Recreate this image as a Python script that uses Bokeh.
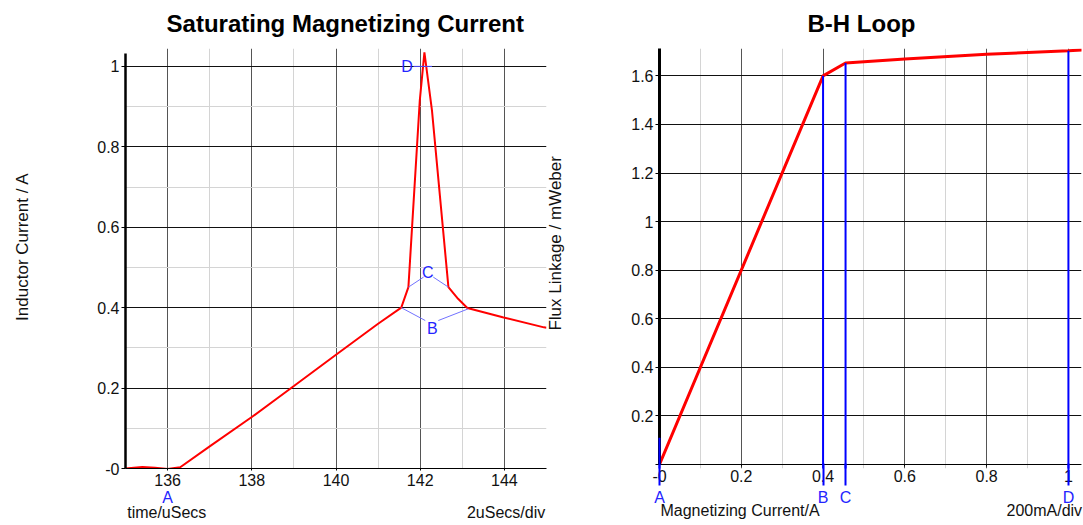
from bokeh.plotting import figure
from bokeh.layouts import row
from bokeh.models import FixedTicker, Label, LinearAxis
from bokeh.embed import file_html
from bokeh.resources import INLINE
import math

# ---- data: left chart (inductor current vs time) ----
time_us = [135.0, 135.4, 135.7, 136.0, 136.3, 137.0, 138.0, 139.0, 140.0, 141.0,
           141.55, 141.72, 141.99, 142.1, 142.28, 142.67, 142.9, 143.12, 143.96, 144.94, 145.0]
current_a = [0.0, 0.004, 0.002, -0.001, 0.003, 0.055, 0.128, 0.205, 0.283, 0.36,
             0.40, 0.451, 0.915, 1.035, 0.89, 0.451, 0.422, 0.399, 0.376, 0.351, 0.35]
left_title = "Saturating Magnetizing Current"
left_title_pos = 140.22
left_xticks = [136, 138, 140, 142, 144]
left_xminor = [135, 137, 139, 141, 143, 145]
left_yticks = [0, 0.2, 0.4, 0.6, 0.8, 1.0]
left_yminor = [0.1, 0.3, 0.5, 0.7, 0.9]
left_ylabels = {0: "-0", 0.2: "0.2", 0.4: "0.4", 0.6: "0.6", 0.8: "0.8", 1.0: "1"}
left_cursor_x = [136]
left_cursor_names = {136: "A"}
left_text_pos = [135.98, 144.04]
left_texts = {135.98: "time/uSecs", 144.04: "2uSecs/div"}
left_ylabel_pos = 0.736
left_ylabel = "Inductor Current / A"

# cursor marks on left chart
cur_b_x = [[141.55, 142.12], [142.43, 143.14]]
cur_b_y = [[0.40, 0.368], [0.368, 0.397]]
cur_c_x = [[141.72, 142.08], [142.31, 142.67]]
cur_c_y = [[0.451, 0.476], [0.476, 0.451]]
cur_d_x = [141.84, 142.28]
cur_d_y = [1.0, 1.0]

# ---- data: right chart (B-H loop) ----
mag_current = [0.0, 0.4, 0.455, 0.6, 0.8, 1.0, 1.04]
flux = [0.0, 1.6, 1.653, 1.669, 1.689, 1.703, 1.707]
right_title = "B-H Loop"
right_title_pos = 0.494
right_xticks = [0, 0.2, 0.4, 0.6, 0.8, 1.0]
right_xminor = [0.1, 0.3, 0.5, 0.7, 0.9]
right_xlabels = {0: "-0", 0.2: "0.2", 0.4: "0.4", 0.6: "0.6", 0.8: "0.8", 1.0: "1"}
right_yticks = [0, 0.2, 0.4, 0.6, 0.8, 1.0, 1.2, 1.4, 1.6]
right_ylabels = {0: "", 0.2: "0.2", 0.4: "0.4", 0.6: "0.6", 0.8: "0.8", 1.0: "1",
                 1.2: "1.2", 1.4: "1.4", 1.6: "1.6"}
right_ymin = -0.0165
right_ymax = 1.7127
cursor_names = ["A", "B", "C", "D"]
cursor_x = [0.0, 0.4, 0.455, 1.0]
cursor_top = [0.11, 1.6, 1.653, 1.703]
right_text_pos = [0.197, 0.941]
right_texts = {0.197: "Magnetizing Current/A", 0.941: "200mA/div"}
right_ylabel_pos = 0.343   # shown in the gap between the two charts
right_ylabel = "Flux Linkage / mWeber"

FONT = "Liberation Sans"
BLUE = "#2424ff"
TXT = "#111111"


def style(p, xt, xm, yt, ym, xlab, ylab, ylw):
    p.xaxis.ticker = FixedTicker(ticks=xt, minor_ticks=xm)
    p.yaxis.ticker = FixedTicker(ticks=yt, minor_ticks=ym)
    p.xaxis.major_label_overrides = xlab
    p.yaxis.major_label_overrides = ylab
    for ax in (p.xaxis, p.yaxis):
        ax.major_label_text_font = FONT
        ax.major_label_text_font_size = "16px"
        ax.major_label_text_color = TXT
        ax.minor_tick_line_color = None
        ax.major_tick_in = 0
        ax.axis_line_color = "black"
        ax.major_tick_line_color = "black"
    p.yaxis.major_tick_out = 4
    p.yaxis.major_label_standoff = 2
    p.yaxis.axis_line_width = ylw
    p.xaxis.major_tick_out = 2
    p.xaxis.major_label_standoff = 1
    p.xgrid.grid_line_color = "#555555"
    p.xgrid.minor_grid_line_color = "#d4d4d4"
    p.ygrid.grid_line_color = "#111111"
    p.ygrid.minor_grid_line_color = "#d4d4d4" if ym else None
    p.outline_line_color = None


def text_axis(ticks, labels, color, size, standoff, tick_out=0, tick_in=0,
              tick_color=None, tick_width=1, orientation="horizontal", bold=False):
    ax = LinearAxis(ticker=FixedTicker(ticks=ticks), major_label_overrides=labels)
    ax.axis_line_color = None
    ax.minor_tick_line_color = None
    ax.major_tick_line_color = tick_color
    ax.major_tick_line_width = tick_width
    ax.major_tick_out = tick_out
    ax.major_tick_in = tick_in
    ax.major_label_standoff = standoff
    ax.major_label_text_font = FONT
    ax.major_label_text_font_size = size
    ax.major_label_text_color = color
    ax.major_label_orientation = orientation
    if bold:
        ax.major_label_text_font_style = "bold"
    return ax


# ---------- left figure ----------
p1 = figure(width=579, height=525, x_range=(135, 145), y_range=(0, 1.0445),
            output_backend="svg", toolbar_location=None,
            min_border_left=123, min_border_right=33, min_border_top=48, min_border_bottom=57)
style(p1, left_xticks, left_xminor, left_yticks, left_yminor, {}, left_ylabels, 2.5)
p1.yaxis.bounds = (0, 1.032)
p1.line(time_us, current_a, line_color="red", line_width=2)
p1.multi_line(cur_b_x, cur_b_y, line_color="#7272ff", line_width=1)
p1.multi_line(cur_c_x, cur_c_y, line_color="#7272ff", line_width=1)
p1.line(cur_d_x, cur_d_y, line_color="#4a4aff", line_width=1)
p1.add_layout(Label(x=142.18, y=0.488, text="C", text_align="center", text_baseline="middle",
                    text_font=FONT, text_font_size="16px", text_color=BLUE))
p1.add_layout(Label(x=142.29, y=0.347, text="B", text_align="center", text_baseline="middle",
                    text_font=FONT, text_font_size="16px", text_color=BLUE))
p1.add_layout(Label(x=141.69, y=1.0, text="D", text_align="center", text_baseline="middle",
                    text_font=FONT, text_font_size="16px", text_color=BLUE))
p1.add_layout(text_axis([left_title_pos], {left_title_pos: left_title}, "black", "24px", 12,
                        bold=True), "above")
p1.add_layout(text_axis(left_cursor_x, left_cursor_names, BLUE, "16px", 0), "below")
p1.add_layout(text_axis(left_text_pos, left_texts, TXT, "16px", -5), "below")
p1.add_layout(text_axis([left_ylabel_pos], {left_ylabel_pos: left_ylabel}, TXT, "17px", 72,
                        orientation=math.pi / 2), "left")
p1.add_layout(text_axis([right_ylabel_pos], {right_ylabel_pos: right_ylabel}, TXT, "17px", 9,
                        orientation=math.pi / 2), "right")

# ---------- right figure ----------
p2 = figure(width=504, height=525, x_range=(0, 1.032), y_range=(right_ymin, right_ymax),
            output_backend="svg", toolbar_location=None,
            min_border_left=80, min_border_right=2, min_border_top=48, min_border_bottom=57)
style(p2, right_xticks, right_xminor, right_yticks, [], {}, right_ylabels, 3)
p2.xaxis.fixed_location = 0
p2.xaxis.major_label_text_color = None
p2.yaxis.bounds = (0, right_ymax)
p2.line(mag_current, flux, line_color="red", line_width=3)
seg = p2.segment(x0=cursor_x, y0=[right_ymin] * len(cursor_x), x1=cursor_x, y1=cursor_top,
                 line_color="#0000ff", line_width=2)
seg.level = "overlay"
p2.add_layout(text_axis([right_title_pos], {right_title_pos: right_title}, "black", "24px", 12,
                        bold=True), "above")
p2.add_layout(text_axis(right_xticks, right_xlabels, TXT, "16px", 1), "below")
p2.add_layout(text_axis(cursor_x, dict(zip(cursor_x, cursor_names)), BLUE, "16px", 3,
                        tick_out=1, tick_in=21, tick_color="#0000ff", tick_width=2), "below")
p2.add_layout(text_axis(right_text_pos, right_texts, TXT, "16px", -7), "below")

layout = row(p1, p2)
open("out.html", "w").write(file_html(layout, INLINE))
